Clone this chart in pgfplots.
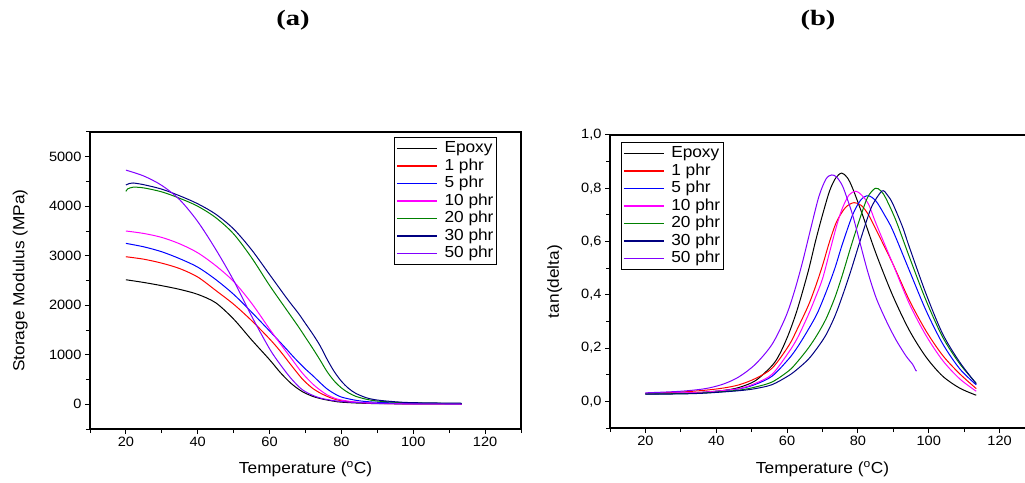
\documentclass[border=0pt]{standalone}
\usepackage{pgfplots}
\pgfplotsset{compat=1.18}
\usepackage{fontspec}
\setmainfont{Liberation Sans}[FakeStretch=1.08]
\newfontfamily\titlefont{Liberation Serif}[FakeStretch=1.3]

\definecolor{cEpoxy}{HTML}{000000}
\definecolor{cOne}{HTML}{FF0000}
\definecolor{cFive}{HTML}{0000FF}
\definecolor{cTen}{HTML}{FF00FF}
\definecolor{cTwenty}{HTML}{008000}
\definecolor{cThirty}{HTML}{000080}
\definecolor{cFifty}{HTML}{8000FF}

\pgfplotsset{
    dma/.style={
        scale only axis,
        xmin=10, xmax=130,
        xtick={20,40,...,120},
        minor xtick={10,30,...,130},
        tick align=outside,
        xtick pos=bottom, ytick pos=left,
        major tick length=5pt, minor tick length=4pt,
        every tick/.style={black, line width=1pt},
        axis line style={line width=1.1pt},
        tick label style={font=\fontsize{13.5}{16}\selectfont},
        label style={font=\fontsize{16}{19}\selectfont},
        /pgf/number format/assume math mode=true,
        xlabel={Temperature (\textsuperscript{o}C)},
        legend cell align={left},
        legend image code/.code={%
            \draw[##1, line width=1.5pt] (0pt,0pt) -- (40pt,0pt);
            \path (46pt,0pt);},
        legend style={draw=black, line width=1pt, font=\fontsize{16}{19}\selectfont,
            inner sep=2pt, row sep=0pt,
            nodes={inner sep=1pt, text height=12pt, text depth=3.5pt}},
        every axis plot/.append style={line width=1pt, smooth},
    }
}

\begin{document}
\begin{tikzpicture}
\useasboundingbox (0pt,0pt) rectangle (1025pt,482pt);
\node[font=\titlefont\bfseries\fontsize{22}{26}\selectfont] at (293pt,462pt) {(a)};
\node[font=\titlefont\bfseries\fontsize{22}{26}\selectfont] at (818pt,462pt) {(b)};

% (a) storage modulus
\begin{axis}[dma,
    at={(90pt,53pt)}, anchor=south west,
    width=431pt, height=297pt,
    ymin=-500, ymax=5500,
    ytick={0,1000,...,5000},
    minor ytick={-500,500,...,5500},
    yticklabel style={/pgf/number format/1000 sep={}},
    ylabel={Storage Modulus (MPa)},
    xlabel style={at={(axis description cs:0.5,-0.135)}, anchor=center},
    ylabel style={at={(axis description cs:-0.162,0.5)}, anchor=center},
    legend style={at={(axis description cs:1,1)}, anchor=north east, xshift=-24pt, yshift=-5pt},
]
\addplot[cEpoxy] coordinates {(20,2515)(25,2460)(30,2395)(35,2320)(40,2220)(45,2050)(50,1720)(55,1300)(60,900)(63,640)(66,420)(69,260)(72,160)(75,100)(78,60)(80,42)(85,22)(90,13)(100,8)(113.5,5)};
\addplot[cOne] coordinates {(20,2980)(25,2930)(30,2850)(35,2740)(40,2570)(45,2300)(50,2020)(55,1690)(60,1320)(63,1070)(66,790)(69,520)(71,380)(72,320)(74,230)(76,160)(78,105)(80,70)(84,38)(90,18)(100,8)(113.5,5)};
\addplot[cFive] coordinates {(20,3250)(25,3180)(30,3080)(35,2940)(40,2770)(45,2520)(50,2220)(55,1860)(60,1480)(64,1170)(67,930)(70,710)(72,580)(74,440)(76,310)(78,215)(80,145)(84,80)(88,48)(95,25)(100,15)(113.5,8)};
\addplot[cTen] coordinates {(20,3500)(25,3450)(30,3370)(35,3240)(40,3060)(45,2800)(50,2480)(55,2040)(60,1520)(63,1220)(66,930)(69,640)(72,410)(74,290)(76,190)(78,125)(80,85)(84,45)(90,20)(100,8)(113.5,5)};
\addplot[cTwenty] coordinates {(20,4300)(20.5,4350)(22,4385)(25,4370)(30,4290)(35,4160)(40,4000)(45,3770)(50,3440)(55,2960)(60,2400)(65,1880)(68,1570)(70,1350)(72,1130)(74,900)(76,660)(78,470)(80,330)(82,230)(84,160)(87,100)(90,65)(95,40)(100,28)(113.5,15)};
\addplot[cThirty] coordinates {(20,4430)(21,4460)(22,4470)(25,4435)(30,4345)(35,4210)(40,4050)(45,3840)(50,3540)(55,3120)(60,2620)(65,2120)(68,1840)(70,1630)(72,1420)(74,1190)(76,910)(78,660)(80,465)(82,320)(84,220)(87,130)(90,85)(95,50)(100,32)(113.5,20)};
\addplot[cFifty] coordinates {(20,4730)(25,4610)(30,4420)(35,4130)(40,3690)(45,3130)(50,2500)(55,1780)(60,1120)(63,800)(66,520)(69,300)(72,180)(75,110)(80,55)(90,16)(100,8)(113.5,5)};
\legend{Epoxy,1 phr,5 phr,10 phr,20 phr,30 phr,50 phr}
\end{axis}

% (b) tan delta
\begin{axis}[dma,
    at={(610pt,54pt)}, anchor=south west,
    width=425pt, height=293pt,
    ymin=-0.1, ymax=1.0,
    ytick={0,0.2,0.4,0.6,0.8,1.0},
    minor ytick={-0.1,0.1,0.3,0.5,0.7,0.9},
    yticklabel style={/pgf/number format/.cd, use comma, fixed, fixed zerofill, precision=1},
    ylabel={tan(delta)},
    xlabel style={at={(axis description cs:0.5,-0.14)}, anchor=center},
    ylabel style={at={(axis description cs:-0.13,0.5)}, anchor=center},
    legend style={at={(axis description cs:0,1)}, anchor=north west, xshift=10.5pt, yshift=-7.5pt},
]
\addplot[cEpoxy] coordinates {(20,0.028)(30,0.030)(37,0.035)(42,0.041)(46.4,0.052)(51.1,0.078)(55.8,0.135)(58,0.18)(60.5,0.255)(63,0.35)(66,0.49)(68,0.6)(70,0.7)(72,0.79)(73.7,0.838)(75.4,0.857)(77,0.84)(78.5,0.8)(81.3,0.7)(85.1,0.555)(89.8,0.398)(94.5,0.267)(99.2,0.167)(103.9,0.095)(108.7,0.05)(113.4,0.023)};
\addplot[cOne] coordinates {(20,0.03)(30,0.035)(37,0.042)(42,0.05)(46.4,0.062)(51.1,0.086)(55.8,0.125)(60.5,0.21)(63,0.275)(66,0.36)(68,0.43)(70,0.51)(72,0.6)(74,0.675)(76.5,0.728)(78.9,0.746)(81,0.735)(83,0.7)(85.1,0.645)(89.8,0.518)(94.5,0.38)(99.2,0.265)(103.9,0.173)(108.7,0.104)(113.4,0.048)};
\addplot[cFive] coordinates {(20,0.029)(30,0.031)(37,0.034)(46.4,0.047)(51.1,0.064)(55.8,0.095)(60.5,0.16)(63,0.205)(66,0.27)(68.5,0.33)(71,0.41)(73.5,0.5)(75.6,0.59)(78.5,0.7)(80.8,0.756)(82.9,0.772)(85.1,0.752)(87.5,0.7)(89.8,0.643)(94.5,0.492)(99.2,0.342)(103.9,0.217)(108.7,0.123)(113.4,0.062)};
\addplot[cTen] coordinates {(20,0.03)(30,0.032)(37,0.035)(46.4,0.048)(51.1,0.068)(55.8,0.102)(60.5,0.185)(63,0.24)(66,0.325)(68,0.39)(70,0.46)(72,0.56)(74,0.66)(75.6,0.725)(77.5,0.775)(79.4,0.789)(81,0.775)(83,0.74)(85.1,0.668)(89.8,0.518)(94.5,0.367)(99.2,0.248)(103.9,0.154)(108.7,0.085)(113.4,0.038)};
\addplot[cTwenty] coordinates {(20,0.028)(30,0.029)(37,0.032)(46.4,0.042)(51.1,0.054)(55.8,0.073)(60.5,0.115)(63,0.15)(66,0.2)(68.5,0.25)(71,0.31)(73.5,0.39)(75.6,0.474)(78,0.58)(80.4,0.68)(82.7,0.765)(84.9,0.8)(86.5,0.79)(87.9,0.762)(90.7,0.68)(94.5,0.543)(99.2,0.38)(103.9,0.242)(108.7,0.142)(113.4,0.068)};
\addplot[cThirty] coordinates {(20,0.027)(30,0.028)(37,0.031)(46.4,0.04)(51.1,0.048)(55.8,0.063)(60.5,0.097)(63,0.122)(66,0.158)(68.5,0.2)(71,0.25)(73.5,0.32)(75.6,0.395)(78,0.49)(80.4,0.593)(82.5,0.68)(84.1,0.737)(86.8,0.79)(88.3,0.775)(89.8,0.743)(92.6,0.655)(94.5,0.58)(99.2,0.405)(103.9,0.254)(108.7,0.148)(113.4,0.066)};
\addplot[cFifty] coordinates {(20,0.032)(30,0.038)(37,0.048)(42,0.065)(46.4,0.092)(51.1,0.14)(55.8,0.215)(59.6,0.317)(62,0.41)(64.3,0.52)(66.7,0.65)(69,0.77)(71,0.835)(72.6,0.85)(74,0.842)(75.6,0.81)(77,0.76)(78.5,0.7)(80.4,0.605)(82.7,0.49)(85.1,0.39)(87.9,0.305)(90.7,0.232)(93.6,0.17)(95.4,0.14)(96,0.125)(96.4,0.115)(96.6,0.114)};
\legend{Epoxy,1 phr,5 phr,10 phr,20 phr,30 phr,50 phr}
\end{axis}
\end{tikzpicture}
\end{document}
